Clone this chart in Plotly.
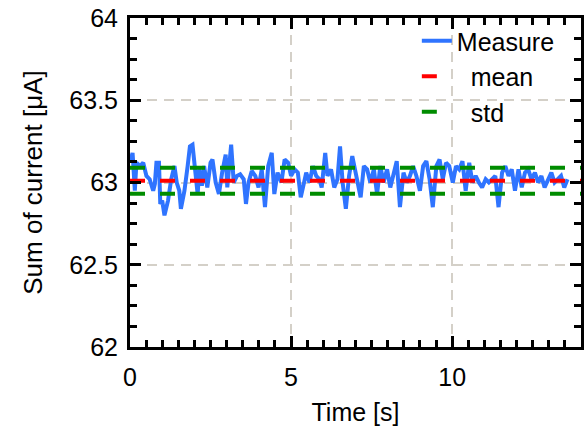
import plotly.graph_objects as go

time_s = [0.00, 0.08, 0.15, 0.20, 0.31, 0.41, 0.51, 0.61, 0.72, 0.77, 0.82, 0.90, 0.94, 1.00,
          1.07, 1.18, 1.28, 1.38, 1.45, 1.53, 1.58, 1.69, 1.79, 1.86, 1.94, 2.03, 2.10, 2.15,
          2.23, 2.30, 2.40, 2.50, 2.56, 2.66, 2.76, 2.86, 2.97, 3.02, 3.07, 3.14, 3.22, 3.32,
          3.42, 3.53, 3.60, 3.68, 3.78, 3.89, 3.99, 4.09, 4.19, 4.29, 4.40, 4.48, 4.58, 4.70,
          4.80, 4.91, 5.00, 5.11, 5.21, 5.30, 5.37, 5.47, 5.57, 5.68, 5.78, 5.88, 5.95, 6.06,
          6.13, 6.24, 6.34, 6.44, 6.52, 6.60, 6.70, 6.80, 6.90, 7.00, 7.06, 7.16, 7.26, 7.36,
          7.46, 7.57, 7.67, 7.77, 7.87, 7.98, 8.08, 8.18, 8.28, 8.38, 8.49, 8.59, 8.69, 8.79,
          8.89, 9.00, 9.10, 9.20, 9.30, 9.40, 9.51, 9.61, 9.71, 9.81, 9.91, 10.02, 10.12, 10.22,
          10.32, 10.42, 10.53, 10.63, 10.73, 10.83, 10.93, 11.04, 11.14, 11.24, 11.34, 11.44,
          11.55, 11.65, 11.75, 11.85, 11.95, 12.06, 12.16, 12.26, 12.36, 12.46, 12.57, 12.67,
          12.77, 12.87, 12.97, 13.08, 13.18, 13.28, 13.38, 13.48, 13.58]

current_uA = [63.12, 63.18, 62.95, 63.12, 63.10, 63.12, 63.04, 63.02, 62.95, 62.99, 63.12, 63.12, 62.87, 62.89,
              62.80, 62.89, 63.02, 63.10, 63.00, 62.95, 62.84, 62.95, 63.10, 63.22, 63.23, 63.06, 62.93, 63.08,
              62.98, 63.10, 62.97, 63.12, 63.14, 63.00, 62.93, 63.06, 63.17, 62.97, 63.08, 63.23, 63.00, 63.04,
              63.05, 63.02, 62.87, 63.00, 63.07, 63.04, 62.97, 63.08, 62.85, 63.10, 63.18, 62.93, 63.06, 63.00,
              63.14, 63.12, 63.04, 63.08, 63.06, 62.91, 62.97, 63.06, 63.00, 63.10, 63.04, 63.02, 62.97, 63.18,
              63.04, 63.08, 62.97, 63.02, 63.22, 63.00, 62.84, 63.04, 63.16, 63.06, 63.02, 62.91, 63.10, 63.08,
              63.00, 63.08, 62.93, 63.10, 63.00, 63.08, 62.97, 63.04, 63.13, 62.85, 63.06, 63.00, 63.04, 63.10,
              63.04, 62.95, 63.10, 63.13, 63.02, 62.85, 63.10, 63.14, 63.02, 63.12, 63.10, 63.00, 63.10, 63.08,
              63.13, 62.95, 63.12, 63.00, 63.04, 63.00, 62.97, 63.02, 63.00, 63.02, 63.04, 62.85,
              63.06, 63.10, 63.04, 63.08, 62.95, 63.08, 62.97, 63.06, 63.08, 63.02, 63.06, 63.00,
              63.04, 62.97, 63.02, 63.06, 63.00, 63.02, 63.04, 62.97, 63.02]

mean_value = 63.011
std_value = 0.079
x_range = [0, 14]
y_range = [62, 64]
x_ticks = [0, 5, 10]
y_ticks = [62, 62.5, 63, 63.5, 64]
y_tick_labels = ["62", "62.5", "63", "63.5", "64"]
x_minor_step = 0.5
y_minor_step = 0.125

FONT = "Liberation Sans, Arial, sans-serif"
FS = 25

fig = go.Figure()
fig.add_trace(go.Scatter(x=time_s, y=current_uA, mode="lines", name="Measure",
                         line=dict(color="#2f74ff", width=4)))
fig.add_trace(go.Scatter(x=x_range, y=[mean_value, mean_value], mode="lines", name="\u00a0\u00a0mean",
                         line=dict(color="#ff0000", width=4, dash="15px,15px")))
fig.add_trace(go.Scatter(x=[x_range[0], x_range[1], None, x_range[0], x_range[1]],
                         y=[mean_value + std_value, mean_value + std_value, None,
                            mean_value - std_value, mean_value - std_value],
                         mode="lines", name="\u00a0\u00a0std",
                         line=dict(color="#008c00", width=4, dash="15px,15px")))

axis_common = dict(
    showline=True, linecolor="black", linewidth=3, mirror="ticks",
    ticks="inside", ticklen=11, tickwidth=3, tickcolor="black",
    showgrid=True, gridcolor="rgb(212,208,200)", gridwidth=2, griddash="10px,7px",
    zeroline=False, tickfont=dict(family=FONT, size=FS, color="black"),
)

fig.update_xaxes(range=x_range, tickvals=x_ticks,
                 title=dict(text="Time [s]", font=dict(family=FONT, size=FS, color="black"), standoff=14),
                 minor=dict(dtick=x_minor_step, ticks="inside", ticklen=7, tickwidth=2.5,
                            tickcolor="black", showgrid=False),
                 ticklabelstandoff=6, **axis_common)
fig.update_yaxes(range=y_range, tickvals=y_ticks, ticktext=y_tick_labels,
                 title=dict(text="Sum of current [μA]", font=dict(family=FONT, size=26, color="black"), standoff=20),
                 minor=dict(dtick=y_minor_step, ticks="inside", ticklen=7, tickwidth=2.5,
                            tickcolor="black", showgrid=False),
                 ticklabelstandoff=4, **axis_common)

fig.update_layout(
    width=587, height=432,
    margin=dict(l=130, r=3, t=18, b=85),
    plot_bgcolor="white", paper_bgcolor="white",
    font=dict(family=FONT, size=FS, color="black"),
    legend=dict(x=0.636, y=1.0, xanchor="left", yanchor="top", bgcolor="rgba(0,0,0,0)",
                font=dict(family=FONT, size=FS, color="black"), itemwidth=30,
                tracegroupgap=0),
    showlegend=True,
)

fig.write_html("out.html")
